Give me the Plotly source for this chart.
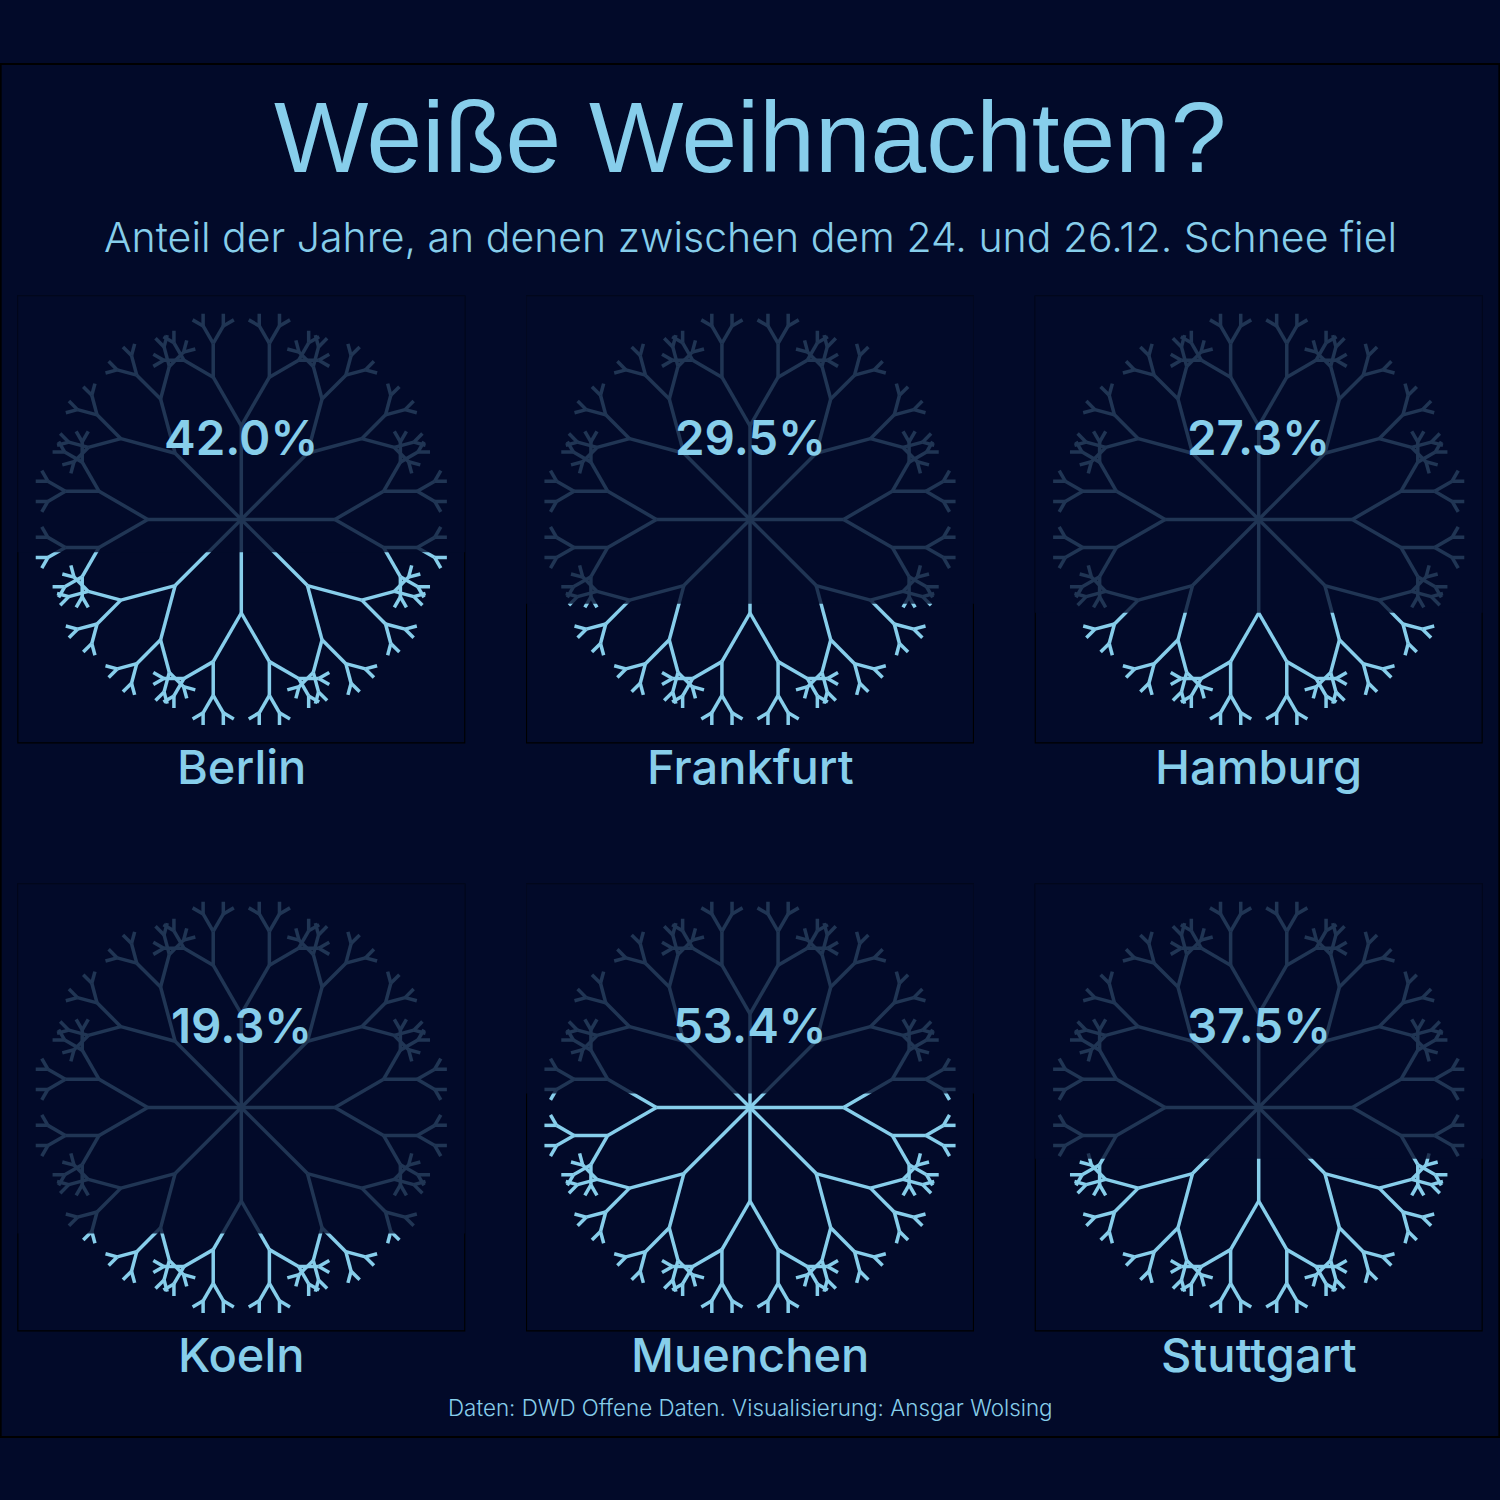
import math
import plotly.graph_objects as go

cities = ["Berlin", "Frankfurt", "Hamburg", "Koeln", "Muenchen", "Stuttgart"]
snow_share = [42.0, 29.5, 27.3, 19.3, 53.4, 37.5]

title_text = "Weiße Weihnachten?"
subtitle_text = "Anteil der Jahre, an denen zwischen dem 24. und 26.12. Schnee fiel"
caption_text = "Daten: DWD Offene Daten. Visualisierung: Ansgar Wolsing"

BG = "#020A29"
SKY = "#87CEEB"
W = H = 1500.0
PANEL = 448.0
panel_left = [17.3, 526.0, 1034.7]
panel_top = [295.4, 883.4]
ARM_COUNT = 8
ARM_LENGTH = 93.6
SHRINK = 0.6
SPREAD = 30
DEPTH = 5


def branch(x, y, angle, length, level, xs, ys):
    x2 = x + length * math.sin(math.radians(angle))
    y2 = y + length * math.cos(math.radians(angle))
    xs += [x, x2, None]
    ys += [y, y2, None]
    if level > 1:
        for turn in (-SPREAD, SPREAD):
            branch(x2, y2, angle + turn, length * SHRINK, level - 1, xs, ys)


flake_x, flake_y = [], []
for arm in range(ARM_COUNT):
    branch(0.0, 0.0, arm * 360 / ARM_COUNT, ARM_LENGTH, DEPTH, flake_x, flake_y)
y_vals = [v for v in flake_y if v is not None]
y_low, y_high = min(y_vals), max(y_vals)

fig = go.Figure()
layout = dict(
    width=W, height=H, margin=dict(l=0, r=0, t=0, b=0),
    paper_bgcolor=BG, plot_bgcolor=BG, showlegend=False,
)
shapes = [dict(type="rect", xref="paper", yref="paper", x0=0.0005, x1=0.9995,
               y0=1 - 1437 / H, y1=1 - 64 / H, line=dict(color="#000000", width=1.8),
               fillcolor="rgba(0,0,0,0)", layer="below")]
annotations = []


def text(x, y, s, size, family, weight=400, color=SKY):
    annotations.append(dict(x=x / W, y=1 - y / H, xref="paper", yref="paper", text=s,
                            showarrow=False, xanchor="center", yanchor="middle",
                            font=dict(size=size, family=family, color=color, weight=weight)))


text(750, 137, title_text, 100, "Liberation Sans")
text(750, 237, subtitle_text, 41, "Inter", 300)
text(750, 1407.5, caption_text, 22.4, "Inter", 300, SKY)

for i, (city, share) in enumerate(zip(cities, snow_share)):
    row, col = divmod(i, 3)
    left, top = panel_left[col], panel_top[row]
    sfx = "" if i == 0 else str(i + 1)
    layout["xaxis" + sfx] = dict(domain=[left / W, (left + PANEL) / W], range=[-PANEL / 2, PANEL / 2],
                                 visible=False, fixedrange=True, anchor="y" + sfx)
    layout["yaxis" + sfx] = dict(domain=[1 - (top + PANEL) / H, 1 - top / H], range=[-PANEL / 2, PANEL / 2],
                                 visible=False, fixedrange=True, anchor="x" + sfx)
    fig.add_trace(go.Scatter(x=flake_x, y=flake_y, mode="lines", xaxis="x" + sfx, yaxis="y" + sfx,
                             line=dict(color=SKY, width=3.5), hoverinfo="skip"))
    shapes.append(dict(type="rect", xref="x" + sfx, yref="y" + sfx, x0=-PANEL / 2, x1=PANEL / 2,
                       y0=-PANEL / 2, y1=PANEL / 2, line=dict(color="#000000", width=2.2),
                       fillcolor="rgba(0,0,0,0)", layer="below"))
    level = y_low + (y_high - y_low) * share / 100
    shapes.append(dict(type="rect", xref="x" + sfx, yref="y" + sfx, x0=-PANEL / 2 - 2, x1=PANEL / 2 + 2,
                       y0=level, y1=PANEL / 2 + 2, line=dict(width=0),
                       fillcolor="rgba(2,10,41,0.78)", layer="above"))
    cx = left + PANEL / 2
    text(cx, top + 142, f"{share:.1f}%", 47.5, "Inter", 600)
    text(cx, top + 471, city, 47, "Inter", 500)

layout["shapes"] = shapes
layout["annotations"] = annotations
fig.update_layout(**layout)
fig.write_html("out.html", config={"displayModeBar": False},
               post_script="document.body.style.margin='0';document.body.style.background='#020A29';")
